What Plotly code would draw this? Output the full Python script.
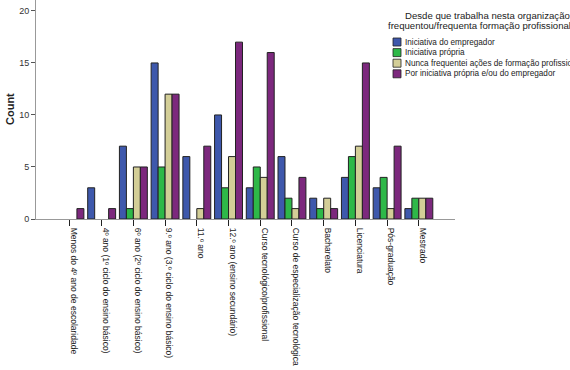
import plotly.graph_objects as go

categories = [
    "Menos do 4º ano de escolaridade",
    "4º ano (1º ciclo do ensino básico)",
    "6º ano (2º ciclo do ensino básico)",
    "9.º ano (3.º ciclo do ensino básico)",
    "11.º ano",
    "12.º ano (ensino secundário)",
    "Curso tecnológico/profissional",
    "Curso de especialização tecnológica",
    "Bacharelato",
    "Licenciatura",
    "Pós-graduação",
    "Mestrado",
]
series_names = [
    "Iniciativa do empregador",
    "Iniciativa própria",
    "Nunca frequentei ações de formação profissional",
    "Por iniciativa própria e/ou do empregador",
]
empregador = [0, 3, 7, 15, 6, 10, 3, 6, 2, 4, 3, 1]
propria = [0, 0, 1, 5, 0, 3, 5, 2, 1, 6, 4, 2]
nunca = [0, 0, 5, 12, 1, 6, 4, 1, 2, 7, 1, 2]
ambos = [1, 1, 5, 12, 7, 17, 16, 4, 1, 15, 7, 2]
colors = ["#3E58AC", "#2EB848", "#D3CE97", "#7C287D"]
legend_title = ["Desde que trabalha nesta organização,", "frequentou/frequenta formação profissional?"]
yticks = [0, 5, 10, 15, 20]

W, H = 570, 370
L, R, T, B = 36, 455, 0, 219

fig = go.Figure()
for name, vals, col in zip(series_names, [empregador, propria, nunca, ambos], colors):
    fig.add_trace(go.Bar(
        x=list(range(len(categories))), y=[v if v else None for v in vals], name=name,
        marker=dict(color=col, line=dict(color="#222222", width=1)),
        showlegend=False,
    ))

def px(x):
    return (x - L) / (R - L)

def py(y):
    return (B - y) / (B - T)

ann = []
shapes = []
ann.append(dict(text=legend_title[0], x=px(403), y=py(15), xref="paper", yref="paper",
                xanchor="left", yanchor="middle", showarrow=False,
                font=dict(family="Liberation Sans, Arial", size=9.6, color="#222")))
ann.append(dict(text=legend_title[1], x=px(386), y=py(25.5), xref="paper", yref="paper",
                xanchor="left", yanchor="middle", showarrow=False,
                font=dict(family="Liberation Sans, Arial", size=9.6, color="#222")))
for i, (name, col) in enumerate(zip(series_names, colors)):
    yc = 42 + i * 10.6
    shapes.append(dict(type="rect", xref="paper", yref="paper",
                       x0=px(393), x1=px(401), y0=py(yc - 4), y1=py(yc + 4),
                       fillcolor=col, line=dict(color="#222", width=0.8)))
    ann.append(dict(text=name, x=px(402.5), y=py(yc), xref="paper", yref="paper",
                    xanchor="left", yanchor="middle", showarrow=False,
                    font=dict(family="Liberation Sans, Arial", size=8.2, color="#222")))
ann.append(dict(text="<b>Count</b>", x=px(10), y=py(109), xref="paper", yref="paper",
                textangle=-90, showarrow=False, xanchor="center", yanchor="middle",
                font=dict(family="Liberation Sans, Arial", size=11, color="#222")))

fig.update_layout(
    width=W, height=H,
    margin=dict(l=L, r=W - R, t=T, b=H - B, pad=0),
    paper_bgcolor="white", plot_bgcolor="white",
    barmode="group", bargap=0.12, bargroupgap=0,
    font=dict(family="Liberation Sans, Arial", size=8, color="#222"),
    annotations=ann, shapes=shapes,
    xaxis=dict(
        tickmode="array", tickvals=list(range(len(categories))), ticktext=categories,
        range=[-1.07, 11 + 1.14], tickangle=90, ticks="outside", ticklen=6,
        tickcolor="#222", showline=True, linecolor="#999", linewidth=1,
        showgrid=False, zeroline=False, ticklabelshift=4,
        tickfont=dict(size=8.5, family="Liberation Sans, Arial", color="#222"),
    ),
    yaxis=dict(
        range=[0, 21.05], tickvals=yticks, ticks="outside", ticklen=4,
        tickcolor="#555", showline=True, linecolor="#999", linewidth=1,
        showgrid=False, zeroline=False,
        tickfont=dict(size=9, family="Liberation Sans, Arial", color="#333"),
    ),
)
fig.write_html("out.html")
